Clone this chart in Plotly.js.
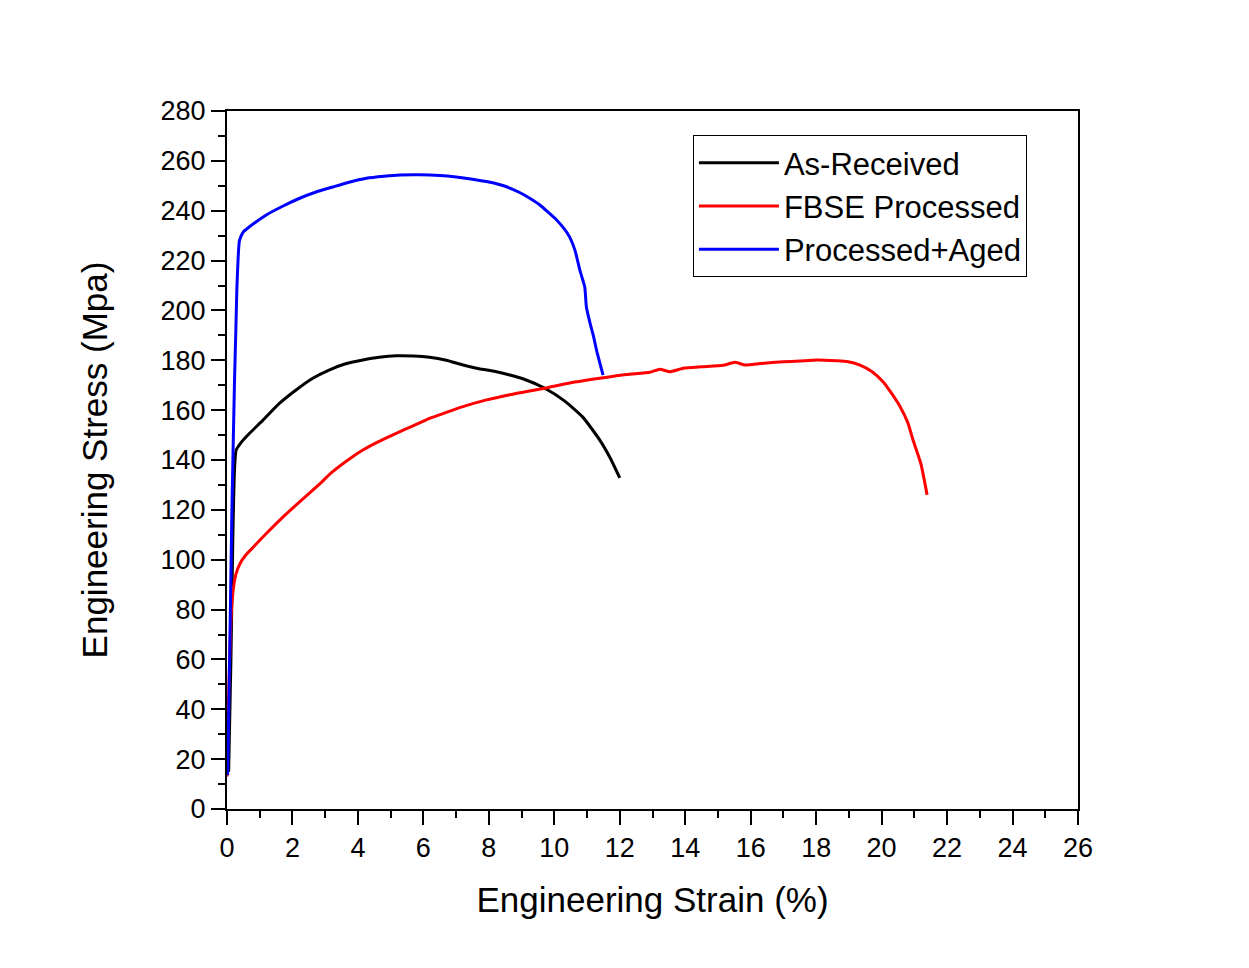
<!DOCTYPE html>
<html>
<head>
<meta charset="utf-8">
<script src="https://cdn.plot.ly/plotly-3.0.1.min.js"></script>
<style>html,body{margin:0;padding:0;background:#fff;}#chart{width:1249px;height:968px;}</style>
</head>
<body>
<div id="chart"></div>
<script>
// Engineering strain (%) and engineering stress (MPa)
const seriesNames = ["As-Received", "FBSE Processed", "Processed+Aged"];
const seriesColors = ["#000000", "#ff0000", "#0000ff"];

const asReceivedStrain = [0.05, 0.12, 0.18, 0.23, 0.28, 0.4, 0.69, 1.1, 1.6, 2.1, 2.62, 3.1, 3.6, 4.15, 4.65, 5.17, 5.7, 6.19, 6.7, 7.21, 7.7, 8.2, 8.64, 9.1, 9.71, 10.3, 10.87, 11.39, 11.7, 12.0];
const asReceivedStress = [15, 60, 110, 136.5, 144, 146.5, 150.7, 156, 162.7, 168, 172.8, 176, 178.5, 180.1, 181.2, 181.8, 181.7, 181.2, 180, 178.1, 176.6, 175.5, 174.1, 172.3, 168.8, 163.8, 157.2, 148, 141, 132.8];

const fbseStrain = [0, 0.05, 0.13, 0.2, 0.28, 0.4, 0.55, 0.8, 1.2, 1.7, 2.2, 2.8, 3.2, 3.75, 4.15, 4.6, 5.17, 5.7, 6.19, 6.7, 7.21, 7.9, 8.64, 9.2, 9.71, 10.5, 11.39, 12.2, 12.92, 13.23, 13.53, 13.94, 14.5, 15.16, 15.52, 15.83, 16.3, 17.0, 17.5, 18.02, 18.63, 18.94, 19.34, 19.7, 20.05, 20.3, 20.57, 20.8, 20.96, 21.2, 21.39];
const fbseStress = [13, 45, 78.6, 89, 94.5, 98.5, 101.5, 105, 110.5, 117, 123, 130, 135, 140.5, 144, 147.2, 150.7, 153.8, 156.7, 159.1, 161.4, 164, 166.2, 167.6, 168.8, 171, 172.8, 174.3, 175.2, 176.4, 175.4, 176.8, 177.4, 178, 179.2, 178.1, 178.7, 179.4, 179.7, 180.1, 179.8, 179.5, 178.1, 175.5, 171.3, 166.8, 161.3, 155, 148, 138.5, 126];

const agedStrain = [0.02, 0.08, 0.15, 0.23, 0.27, 0.30, 0.34, 0.38, 0.5, 0.69, 1.2, 1.7, 2.22, 2.7, 3.23, 3.7, 4.26, 4.8, 5.28, 5.9, 6.5, 7.0, 7.5, 8.0, 8.5, 8.94, 9.25, 9.56, 9.8, 10.07, 10.3, 10.47, 10.63, 10.78, 10.93, 10.98, 11.09, 11.2, 11.29, 11.49];
const agedStress = [13.6, 60, 120, 172, 192, 208, 221, 228, 231.5, 233.6, 238.3, 241.8, 245, 247.4, 249.5, 251.3, 253, 253.8, 254.3, 254.4, 254.1, 253.5, 252.6, 251.5, 249.8, 247.3, 245, 242.3, 239.5, 236.3, 232.8, 229.4, 224.2, 216.2, 209.4, 201.4, 195, 189.5, 184.1, 174];

const xTitle = "Engineering Strain (%)";
const yTitle = "Engineering Stress (Mpa)";

const FONT = "Liberation Sans, Arial, Helvetica, sans-serif";

const xs = [asReceivedStrain, fbseStrain, agedStrain];
const ys = [asReceivedStress, fbseStress, agedStress];

const traces = seriesNames.map((name, i) => ({
  type: "scatter",
  mode: "lines",
  name: name,
  x: xs[i],
  y: ys[i],
  line: {color: seriesColors[i], width: 3, shape: "spline", smoothing: 0.5}
}));

const axisCommon = {
  showgrid: false,
  zeroline: false,
  showline: true,
  linecolor: "#000",
  linewidth: 2,
  mirror: true,
  ticks: "outside",
  ticklen: 14,
  tickwidth: 2,
  tickcolor: "#000",
  tickfont: {family: FONT, size: 27, color: "#000"}
};

const layout = {
  width: 1249,
  height: 968,
  paper_bgcolor: "#ffffff",
  plot_bgcolor: "#ffffff",
  margin: {l: 227, r: 171, t: 111, b: 159},
  font: {family: FONT, color: "#000"},
  showlegend: true,
  legend: {
    x: 0.5475, y: 0.9656, xanchor: "left", yanchor: "top",
    bgcolor: "#ffffff",
    bordercolor: "#000",
    borderwidth: 1,
    font: {family: FONT, size: 31, color: "#000"},
    itemwidth: 80
  },
  xaxis: Object.assign({}, axisCommon, {
    range: [0, 26],
    tick0: 0, dtick: 2,
    minor: {dtick: 1, ticks: "outside", ticklen: 7, tickwidth: 2, tickcolor: "#000", showgrid: false},
    title: {text: xTitle, font: {family: FONT, size: 35, color: "#000"}, standoff: 25}
  }),
  yaxis: Object.assign({}, axisCommon, {
    range: [0, 280],
    tick0: 0, dtick: 20,
    minor: {dtick: 10, ticks: "outside", ticklen: 7, tickwidth: 2, tickcolor: "#000", showgrid: false},
    title: {text: yTitle, font: {family: FONT, size: 35, color: "#000"}, standoff: 42}
  })
};

Plotly.newPlot("chart", traces, layout, {displayModeBar: false, staticPlot: true});
</script>
</body>
</html>
